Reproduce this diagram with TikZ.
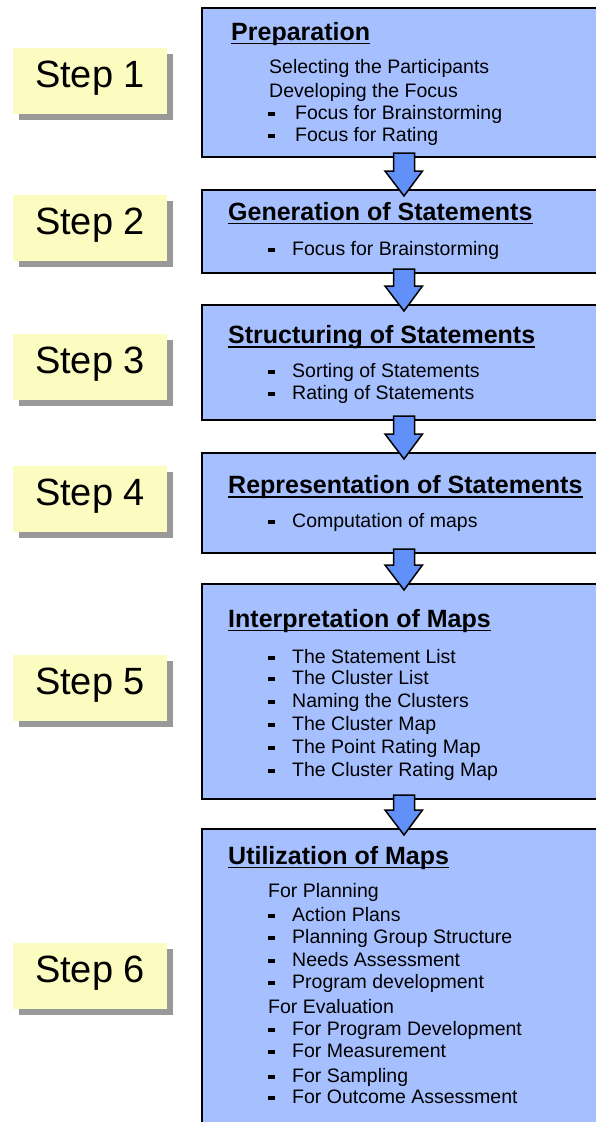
\documentclass[tikz,border=0pt]{standalone}
\usepackage{fontspec}
\setmainfont{Liberation Sans}
\usetikzlibrary{calc,shadows}
\definecolor{boxblue}{RGB}{166,192,255}
\definecolor{arrowblue}{RGB}{96,144,248}
\definecolor{stepyellow}{RGB}{252,252,192}
\definecolor{shadowgray}{RGB}{153,153,153}
\tikzset{
  x=1pt, y=-1pt,
  mainbox/.style={draw=black, line width=2pt, fill=boxblue, minimum width=404pt, inner sep=0pt},
  stepbox/.style={fill=stepyellow, minimum width=154pt, minimum height=66pt, inner sep=0pt,
    text height=27pt, text depth=14pt,
    font=\fontsize{38}{44}\selectfont,
    drop shadow={shadow xshift=6pt, shadow yshift=-6pt, fill=shadowgray, opacity=1}},
  titletext/.style={inner sep=0pt, anchor=base west, font=\fontsize{25}{30}\selectfont\bfseries},
  bodytext/.style={inner sep=0pt, anchor=base west, font=\fontsize{19.5}{24}\selectfont},
  uline/.style={line width=1.6pt},
  flowarrow/.style={draw=black, line width=1.5pt, fill=arrowblue, line join=miter},
}
\newcommand\bulline[4]{%
  \node[bodytext] (#1) at (#2,#3) {#4};
  \fill (268pt,-#3pt+3pt) rectangle (275pt,-#3pt+7pt);
}
\newcommand\ttl[4]{%
  \node[titletext] (#1) at (#2,#3) {#4};
  \draw[uline] ([yshift=-3.5pt]#1.base west) -- ([yshift=-3.5pt]#1.base east);
}
\newcommand\flowarr[2]{%
  \draw[flowarrow] let \p1=(#1.south), \p2=(#2.north) in
    (\x1-10.5pt,\y1+5pt) -- (\x1-10.5pt,\y2+18pt) -- (\x1-19pt,\y2+18pt) --
    (\x1,\y2-7pt) -- (\x1+18.5pt,\y2+18pt) -- (\x1+10.5pt,\y2+18pt) --
    (\x1+10.5pt,\y1+5pt) -- cycle;
}
\begin{document}
\begin{tikzpicture}
\useasboundingbox[fill=white] (0,0) rectangle (595,1122);

% step labels
\node[stepbox] (s1) at (90,81) {Step 1};
\node[stepbox] (s2) at (90,228) {Step 2};
\node[stepbox] (s3) at (90,367) {Step 3};
\node[stepbox] (s4) at (90,498.5) {Step 4};
\node[stepbox] (s5) at (90,688) {Step 5};
\node[stepbox] (s6) at (90,976) {Step 6};

% main boxes
\node[mainbox, minimum height=149pt] (b1) at (404,82.5) {};
\node[mainbox, minimum height=83pt] (b2) at (404,231.5) {};
\node[mainbox, minimum height=115pt] (b3) at (404,362.5) {};
\node[mainbox, minimum height=100pt] (b4) at (404,503) {};
\node[mainbox, minimum height=215pt] (b5) at (404,691.5) {};
\node[mainbox, minimum height=311pt] (b6) at (404,984.5) {};

% box 1
\ttl{t1}{231}{40}{Preparation}
\node[bodytext] (l11) at (269,73) {Selecting the Participants};
\node[bodytext] (l12) at (269,97) {Developing the Focus};
\bulline{l13}{295}{119}{Focus for Brainstorming}
\bulline{l14}{295}{141}{Focus for Rating}

% box 2
\ttl{t2}{228}{220}{Generation of Statements}
\bulline{l21}{292}{255}{Focus for Brainstorming}

% box 3
\ttl{t3}{228}{343.5}{Structuring of Statements}
\bulline{l31}{292}{377}{Sorting of Statements}
\bulline{l32}{292}{399}{Rating of Statements}

% box 4
\ttl{t4}{228}{493.5}{Representation of Statements}
\bulline{l41}{292}{527}{Computation of maps}

% box 5
\ttl{t5}{228}{627}{Interpretation of Maps}
\bulline{l51}{292}{663}{The Statement List}
\bulline{l52}{292}{684}{The Cluster List}
\bulline{l53}{292}{707}{Naming the Clusters}
\bulline{l54}{292}{730}{The Cluster Map}
\bulline{l55}{292}{753}{The Point Rating Map}
\bulline{l56}{292}{776}{The Cluster Rating Map}

% box 6
\ttl{t6}{228}{864}{Utilization of Maps}
\node[bodytext] (l61) at (268,897) {For Planning};
\bulline{l62}{292}{921}{Action Plans}
\bulline{l63}{292}{943}{Planning Group Structure}
\bulline{l64}{292}{966}{Needs Assessment}
\bulline{l65}{292}{988}{Program development}
\node[bodytext] (l66) at (268,1013) {For Evaluation};
\bulline{l67}{292}{1035}{For Program Development}
\bulline{l68}{292}{1057}{For Measurement}
\bulline{l69}{292}{1082}{For Sampling}
\bulline{l6a}{292}{1103}{For Outcome Assessment}

% arrows
\flowarr{b1}{b2}
\flowarr{b2}{b3}
\flowarr{b3}{b4}
\flowarr{b4}{b5}
\flowarr{b5}{b6}
\end{tikzpicture}
\end{document}
